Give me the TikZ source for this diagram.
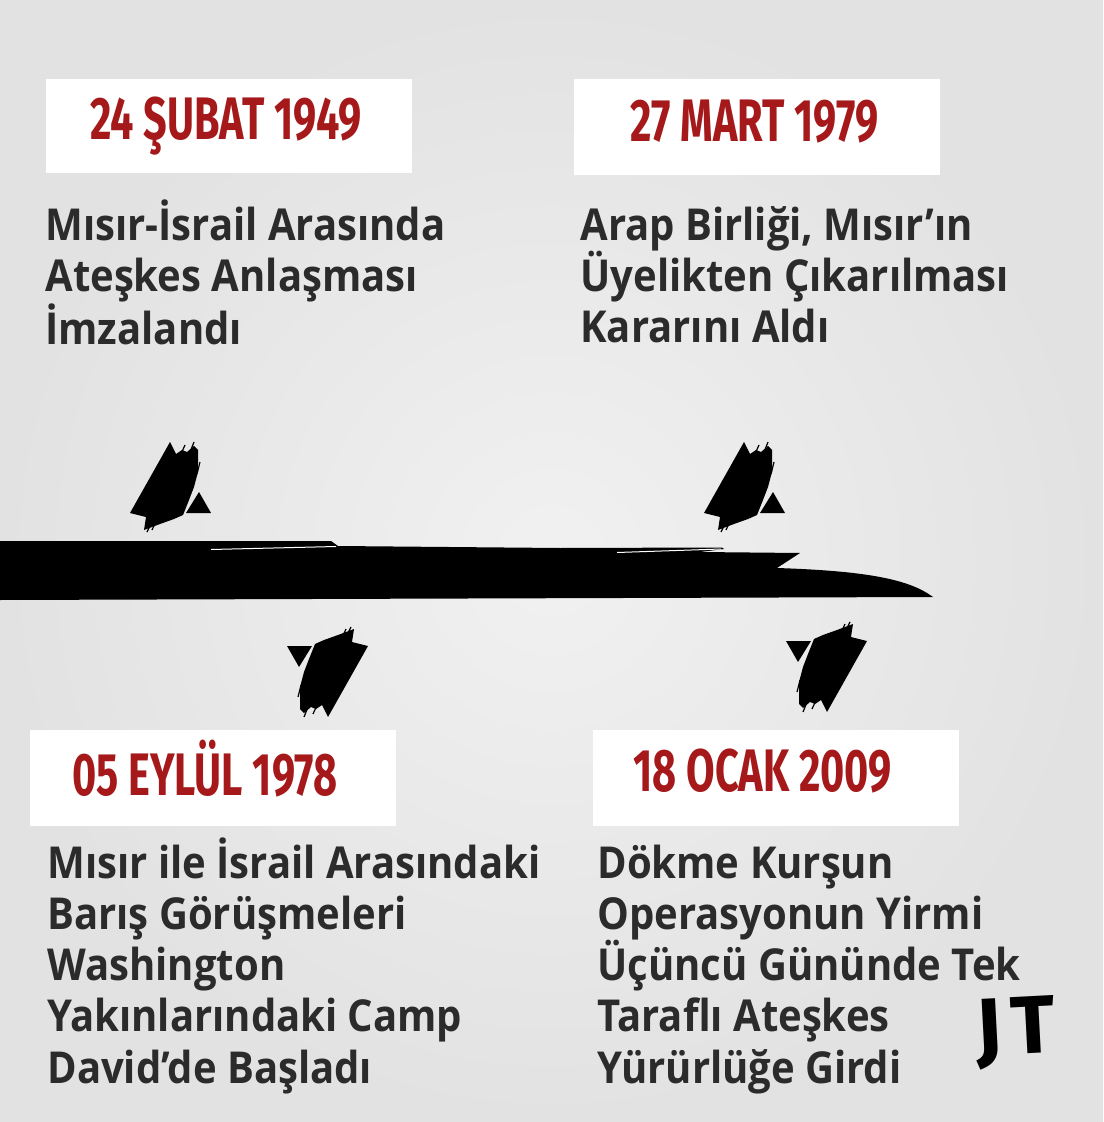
\documentclass[tikz,border=0pt]{standalone}
\usepackage{fontspec}
\setmainfont{Open Sans}[FakeStretch=0.91]
\newfontfamily\datefont[FakeStretch=0.69]{Fira Sans}
\newfontfamily\logofont{Fira Sans}
\usepackage{tikz}
\usetikzlibrary{positioning,calc}
\definecolor{DateRed}{HTML}{A5191B}
\definecolor{InkGrey}{HTML}{2B2B2B}
\definecolor{PaperGrey}{HTML}{E2E2E2}
\definecolor{PaperLight}{HTML}{F1F1F1}

\tikzset{
    stamp/.pic={
        \fill[black] (-40,71) -- (0,0) -- (6,12) -- (12,8) -- (17,10) -- (24,4) -- (28,8) -- (28,30) -- (24,45) -- (19,58) -- (13,73)
            -- (4,77) -- (-10,82) -- (-26,88) -- (-24,75) -- cycle;
        \draw[black, line width=0.6pt] (-23,90) -- (-8,60) (-18,88) -- (-4,58) (15,3) -- (10,14) (24,0) -- (20,10) (30,20) -- (27,32);
        \fill[black] (16,71) -- (41,71) -- (29,50) -- cycle;
    }
}

\begin{document}
\begin{tikzpicture}[
            x=0.5pt, y=-0.5pt,
            datebox/.style={fill=white, inner sep=0pt, anchor=north west},
            datetext/.style={text=DateRed, inner sep=0pt, anchor=base west, font=\datefont\bfseries\fontsize{30}{36}\selectfont},
            desc/.style={text=InkGrey, inner sep=0pt, anchor=base west, align=left, font=\bfseries\fontsize{22}{25.6}\selectfont},
        ]
        \useasboundingbox (0,0) rectangle (1103,1122);
        \shade[inner color=PaperLight, outer color=PaperGrey] (0,0) rectangle (1103,1122);

        % white date boxes
        \node[datebox, minimum width=183pt, minimum height=47pt] (box1949) at (46,79) {};
        \node[datebox, minimum width=183pt, minimum height=48pt] (box1979) at (574,79) {};
        \node[datebox, minimum width=183pt, minimum height=48pt] (box1978) at (30,730) {};
        \node[datebox, minimum width=183pt, minimum height=48pt] (box2009) at (593,730) {};

        \node[datetext] (date1949) at (90,140) {24 ŞUBAT 1949};
        \node[datetext] (date1979) at (630,142) {27 MART 1979};
        \node[datetext] (date1978) at (72,795) {05 EYLÜL 1978};
        \node[datetext] (date2009) at (633,791) {18 OCAK 2009};

        % base of each text is its last line
        \node[desc] (txt1949) at (45,345) {Mısır-İsrail Arasında\\Ateşkes Anlaşması\\İmzalandı};
        \node[desc] (txt1979) at (580,343) {Arap Birliği, Mısır’ın\\Üyelikten Çıkarılması\\Kararını Aldı};
        \node[desc] (txt1978) at (47,1083) {Mısır ile İsrail Arasındaki\\Barış Görüşmeleri\\Washington\\Yakınlarındaki Camp\\David’de Başladı};
        \node[desc] (txt2009) at (597,1083) {Dökme Kurşun\\Operasyonun Yirmi\\Üçüncü Gününde Tek\\Taraflı Ateşkes\\Yürürlüğe Girdi};

        % timeline bar
        \fill (0,541) -- (331,541) -- (338,546) -- (560,548) -- (722,547.5) -- (724,549) -- (700,552) -- (800,553) -- (777,568)
            .. controls (870,571) and (910,580) .. (933,597) -- (0,600) -- cycle;
        \draw[white, line width=0.5pt] (211,549.5) -- (336,546.5) (617,552.5) -- (721,549);

        \pic at (170,442) {stamp};
        \pic at (744,442) {stamp};
        \pic[rotate=180] at (328,717) {stamp};
        \pic[rotate=180] at (827,712) {stamp};

        \node[font=\logofont\bfseries\fontsize{41}{41}\selectfont, rotate=3] (logo) at (1016,1033) {J\hspace{5pt}T};
    \end{tikzpicture}
\end{document}
